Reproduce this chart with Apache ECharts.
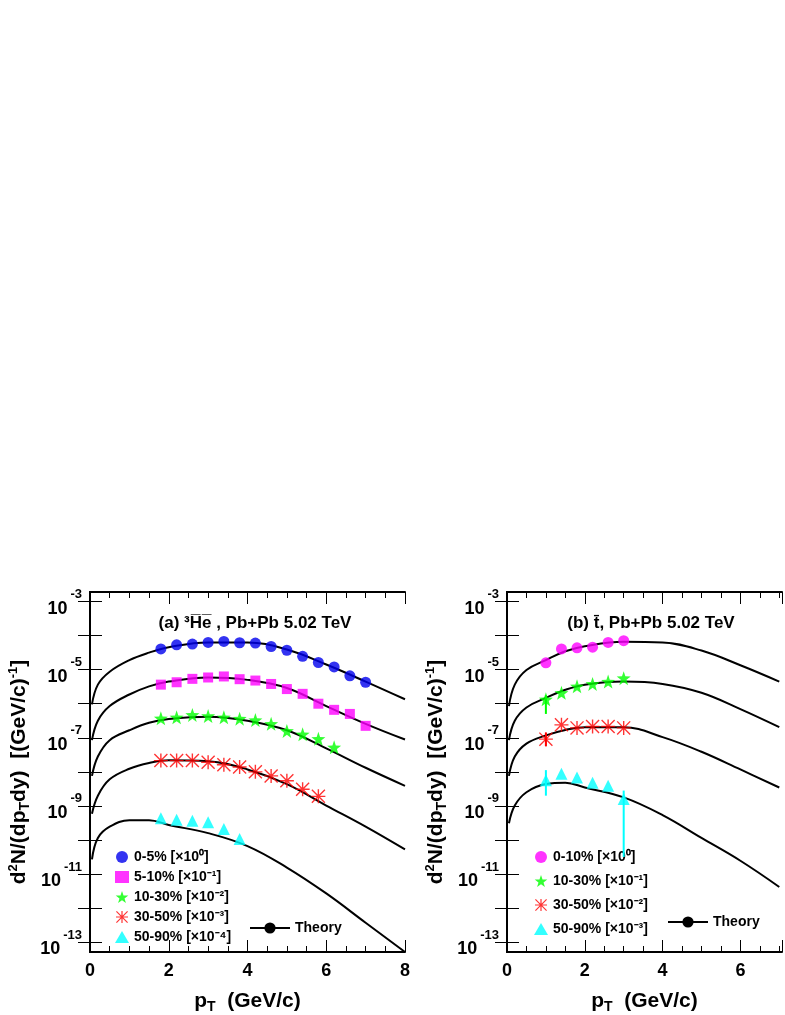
<!DOCTYPE html>
<html><head><meta charset="utf-8">
<script src="https://cdn.jsdelivr.net/npm/echarts@6/dist/echarts.min.js"></script>
<style>html,body{margin:0;padding:0;background:#fff}#c{width:785px;height:1015px}</style>
</head><body><div id="c"></div>
<script>
// data as log10 values
const ptA = [1.8,2.2,2.6,3.0,3.4,3.8,4.2,4.6,5.0,5.4,5.8,6.2,6.6,7.0];
const a_0_5   = [-4.39,-4.27,-4.25,-4.20,-4.17,-4.21,-4.22,-4.32,-4.43,-4.61,-4.79,-4.92,-5.18,-5.37];
const a_5_10  = [-5.44,-5.37,-5.27,-5.23,-5.20,-5.28,-5.32,-5.42,-5.57,-5.71,-6.00,-6.18,-6.30,-6.65];
const a_10_30 = [-6.43,-6.40,-6.33,-6.36,-6.40,-6.44,-6.48,-6.59,-6.80,-6.90,-7.03,-7.28];
const a_30_50 = [-7.67,-7.67,-7.67,-7.72,-7.79,-7.86,-8.00,-8.12,-8.26,-8.51,-8.72];
const a_50_90 = [-9.36,-9.41,-9.44,-9.48,-9.68,-9.97];
const thA_pt = [0.05,0.2,0.5,1,1.5,2,3,4,5,6,7,8];
const thA = [
 [-6.02,-5.44,-5.06,-4.72,-4.50,-4.34,-4.20,-4.20,-4.41,-4.85,-5.35,-5.87],
 [-7.07,-6.50,-6.07,-5.73,-5.49,-5.35,-5.23,-5.30,-5.54,-6.07,-6.59,-7.05],
 [-8.12,-7.55,-7.07,-6.78,-6.56,-6.45,-6.38,-6.50,-6.78,-7.31,-7.88,-8.41],
 [-9.23,-8.70,-8.22,-7.91,-7.74,-7.66,-7.69,-7.93,-8.36,-8.99,-9.61,-10.28],
 [-10.57,-9.94,-9.61,-9.42,-9.42,-9.56,-9.80,-10.18,-10.81,-11.57,-12.43,-13.29]
];
const ptB = [1.0,1.4,1.8,2.2,2.6,3.0];
const b_0_10  = [-4.80,-4.39,-4.36,-4.34,-4.20,-4.15];
const b_10_30 = [-5.87,-5.68,-5.49,-5.42,-5.35,-5.25];
const b_30_50 = [-7.04,-6.62,-6.71,-6.67,-6.67,-6.71];
const b_50_90 = [-8.25,-8.06,-8.17,-8.32,-8.41,-8.80];
const errB = [[1.0,-6.30,-5.75,'#00ff00'],[1.0,-7.25,-6.85,'#ff0000'],[1.0,-8.70,-7.95,'#00ffff'],[3.0,-10.50,-8.55,'#00ffff']];
const thB_pt = [0.05,0.2,0.5,1,1.5,2,3,4,5,6,7];
const thB = [
 [-6.07,-5.44,-5.01,-4.72,-4.46,-4.31,-4.18,-4.20,-4.44,-4.87,-5.35],
 [-7.07,-6.50,-6.11,-5.83,-5.59,-5.44,-5.35,-5.42,-5.68,-6.16,-6.69],
 [-8.12,-7.55,-7.17,-6.93,-6.77,-6.69,-6.69,-6.98,-7.41,-7.93,-8.46],
 [-9.51,-8.99,-8.60,-8.36,-8.32,-8.46,-8.75,-9.27,-9.94,-10.61,-11.38]
];
const labelExp = [-13,-11,-9,-7,-5,-3];
const tickExp = [-13,-12,-11,-10,-9,-8,-7,-6,-5,-4,-3];

const STAR = 'path://M10,0 L12.4,7 L20,7.3 L14,11.8 L16.2,19 L10,14.8 L3.8,19 L6,11.8 L0,7.3 L7.6,7 Z';
const AST = 'path://M0,9 L20,9 L20,11 L0,11 Z M9,0 L11,0 L11,20 L9,20 Z M1.4,0 L20,18.6 L18.6,20 L0,1.4 Z M18.6,0 L20,1.4 L1.4,20 L0,18.6 Z';

const zip = (x, y) => y.map((v, i) => [x[i], v]);
function pts(name, x, y, color, symbol, size, gi) {
  return {type:'scatter', name, data: zip(x,y), xAxisIndex: gi*2, yAxisIndex: gi*2,
    symbol, symbolSize: size, itemStyle:{color}, z: 5};
}
function theory(name, x, y, gi) {
  return {type:'line', name, data: zip(x,y), xAxisIndex: gi*2, yAxisIndex: gi*2, smooth: 0.4,
    showSymbol:false, symbol:'none', lineStyle:{color:'#000', width:2}, itemStyle:{color:'#000'}, z:3};
}
const grids = [{left:90, top:592, width:315, height:368}, {left:507, top:592, width:278, height:368}];
const xMax = [8, 7.07];
const xAxes = [], yAxes = [];
grids.forEach((g, i) => {
  xAxes.push({type:'value', gridIndex:i, min:0, max:xMax[i], interval:2,
    axisLine:{lineStyle:{color:'#000', width:2}}, splitLine:{show:false},
    axisTick:{inside:true, length:12, lineStyle:{color:'#000'}},
    minorTick:{show:true, splitNumber:4, length:6, lineStyle:{color:'#000'}},
    axisLabel:{color:'#000', fontSize:18, fontWeight:'bold', fontFamily:'Liberation Sans', margin:10,
      formatter: v => (v > xMax[i] - 0.1 && i === 1) ? '' : String(v)},
    name:'{p|p}{s|T}{p|  (GeV/c)}', nameLocation:'middle', nameGap:36,
    nameTextStyle:{rich:{p:{fontSize:21, fontWeight:'bold', fontFamily:'Liberation Sans', color:'#000'},
      s:{fontSize:14, fontWeight:'bold', fontFamily:'Liberation Sans', color:'#000', padding:[12,0,0,0]}}}});
  xAxes.push({type:'value', gridIndex:i, min:0, max:xMax[i], interval:2, position:'top',
    axisLine:{lineStyle:{color:'#000', width:2}}, splitLine:{show:false}, axisLabel:{show:false},
    axisTick:{inside:true, length:12, lineStyle:{color:'#000'}},
    minorTick:{show:true, splitNumber:4, length:6, lineStyle:{color:'#000'}}});
  yAxes.push({type:'value', gridIndex:i, min:-13.29, max:-2.72,
    axisLine:{lineStyle:{color:'#000', width:2}}, splitLine:{show:false},
    axisTick:{inside:true, length:12, customValues: tickExp, lineStyle:{color:'#000'}},
    axisLabel:{customValues: labelExp, margin:8, formatter: v => '{b|10}{e|' + v + '}',
      rich:{b:{fontSize:18, fontWeight:'bold', fontFamily:'Liberation Sans', color:'#000', padding:[14,0,0,0]},
            e:{fontSize:13, fontWeight:'bold', fontFamily:'Liberation Sans', color:'#000', padding:[0,0,14,3]}}},
    name:'{p|d}{u|2}{p|N/(dp}{s|T}{p|dy)  [(GeV/c)}{u|-1}{p|]}', nameLocation:'middle', nameGap:58, nameRotate:90,
    nameTextStyle:{rich:{p:{fontSize:21, fontWeight:'bold', fontFamily:'Liberation Sans', color:'#000'},
      u:{fontSize:13, fontWeight:'bold', fontFamily:'Liberation Sans', color:'#000', padding:[0,0,12,0]},
      s:{fontSize:14, fontWeight:'bold', fontFamily:'Liberation Sans', color:'#000', padding:[12,0,0,0]}}}});
  yAxes.push({type:'value', gridIndex:i, min:-13.29, max:-2.72, position:'right',
    axisLine:{lineStyle:{color:'#000', width:2}}, splitLine:{show:false}, axisLabel:{show:false},
    axisTick:{inside:true, length:12, customValues: tickExp, lineStyle:{color:'#000'}}});
});

const series = [
  pts('0-5% [×10⁰]', ptA, a_0_5, '#0000ee', 'circle', 11, 0),
  pts('5-10% [×10⁻¹]', ptA, a_5_10, '#ff00ff', 'rect', 10, 0),
  pts('10-30% [×10⁻²]', ptA, a_10_30, '#00ff00', STAR, 14, 0),
  pts('30-50% [×10⁻³]', ptA, a_30_50, '#ff0000', AST, 14, 0),
  pts('50-90% [×10⁻⁴]', ptA, a_50_90, '#00ffff', 'triangle', 12, 0),
  ...thA.map(c => theory('Theory', thA_pt, c, 0)),
  pts('0-10% [×10⁰]', ptB, b_0_10, '#ff00ff', 'circle', 11, 1),
  pts('10-30% [×10⁻¹]', ptB, b_10_30, '#00ff00', STAR, 14, 1),
  pts('30-50% [×10⁻²]', ptB, b_30_50, '#ff0000', AST, 14, 1),
  pts('50-90% [×10⁻³]', ptB, b_50_90, '#00ffff', 'triangle', 12, 1),
  ...thB.map(c => theory('Theory ', thB_pt, c, 1)),
  {type:'custom', xAxisIndex:2, yAxisIndex:2, data: errB, z:4,
    renderItem:(p, api) => {
      const a = api.coord([api.value(0), api.value(1)]), b = api.coord([api.value(0), api.value(2)]);
      return {type:'line', shape:{x1:a[0], y1:a[1], x2:b[0], y2:b[1]},
        style:{stroke: errB[p.dataIndex][3], lineWidth:2}};
    }}
];
const legText = {fontSize:14, fontWeight:'bold', fontFamily:'Liberation Sans', color:'#000'};
const chart = echarts.init(document.getElementById('c'));
chart.setOption({
  animation:false,
  grid: grids, xAxis: xAxes, yAxis: yAxes, series,
  title: [
    {text:'(a) ³H̅e̅ , Pb+Pb 5.02 TeV', left:250, top:610, textAlign:'center',
      textStyle:{fontSize:17, fontWeight:'bold', fontFamily:'Liberation Sans', color:'#000'}},
    {text:'(b) t̄, Pb+Pb 5.02 TeV', left:646, top:610, textAlign:'center',
      textStyle:{fontSize:17, fontWeight:'bold', fontFamily:'Liberation Sans', color:'#000'}}
  ],
  legend: [
    {orient:'vertical', left:110, top:845, itemGap:6, itemWidth:14, itemHeight:12, textStyle:legText,
      data:['0-5% [×10⁰]','5-10% [×10⁻¹]','10-30% [×10⁻²]','30-50% [×10⁻³]','50-90% [×10⁻⁴]']},
    {orient:'vertical', left:244, top:916, itemWidth:40, textStyle:legText, data:['Theory']},
    {orient:'vertical', left:529, top:845, itemGap:10, itemWidth:14, itemHeight:12, textStyle:legText,
      data:['0-10% [×10⁰]','10-30% [×10⁻¹]','30-50% [×10⁻²]','50-90% [×10⁻³]']},
    {orient:'vertical', left:662, top:910, itemWidth:40, textStyle:legText, data:['Theory '],
      formatter: n => n.trim()}
  ]
});
</script></body></html>
